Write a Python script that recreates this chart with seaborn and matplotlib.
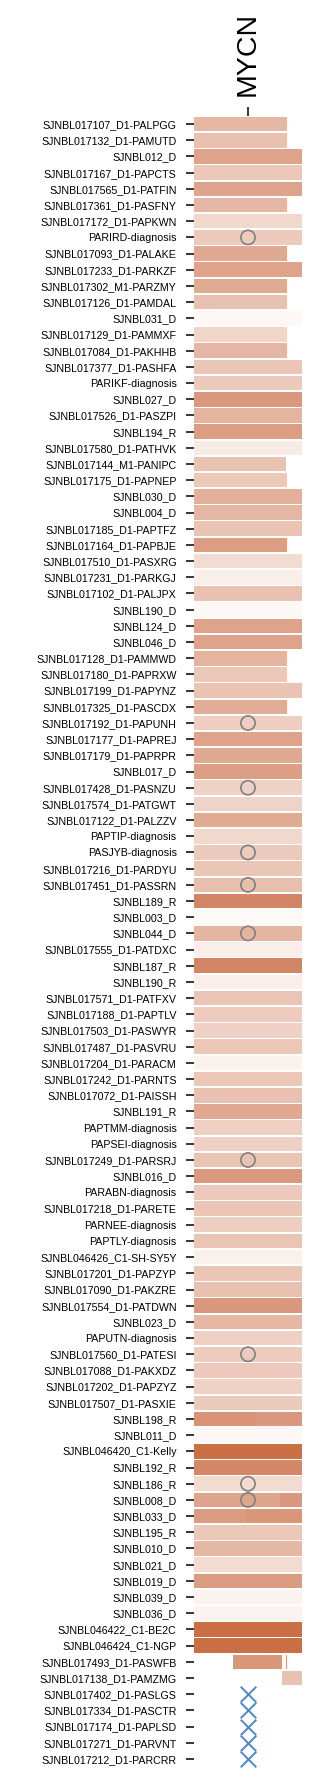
import numpy as np
import matplotlib
matplotlib.use("Agg")
import matplotlib.pyplot as plt
import seaborn as sns

# ---------------- data ----------------
labels = [
    "SJNBL017107_D1-PALPGG", "SJNBL017132_D1-PAMUTD", "SJNBL012_D", "SJNBL017167_D1-PAPCTS",
    "SJNBL017565_D1-PATFIN", "SJNBL017361_D1-PASFNY", "SJNBL017172_D1-PAPKWN", "PARIRD-diagnosis",
    "SJNBL017093_D1-PALAKE", "SJNBL017233_D1-PARKZF", "SJNBL017302_M1-PARZMY", "SJNBL017126_D1-PAMDAL",
    "SJNBL031_D", "SJNBL017129_D1-PAMMXF", "SJNBL017084_D1-PAKHHB", "SJNBL017377_D1-PASHFA",
    "PARIKF-diagnosis", "SJNBL027_D", "SJNBL017526_D1-PASZPI", "SJNBL194_R",
    "SJNBL017580_D1-PATHVK", "SJNBL017144_M1-PANIPC", "SJNBL017175_D1-PAPNEP", "SJNBL030_D",
    "SJNBL004_D", "SJNBL017185_D1-PAPTFZ", "SJNBL017164_D1-PAPBJE", "SJNBL017510_D1-PASXRG",
    "SJNBL017231_D1-PARKGJ", "SJNBL017102_D1-PALJPX", "SJNBL190_D", "SJNBL124_D",
    "SJNBL046_D", "SJNBL017128_D1-PAMMWD", "SJNBL017180_D1-PAPRXW", "SJNBL017199_D1-PAPYNZ",
    "SJNBL017325_D1-PASCDX", "SJNBL017192_D1-PAPUNH", "SJNBL017177_D1-PAPREJ", "SJNBL017179_D1-PAPRPR",
    "SJNBL017_D", "SJNBL017428_D1-PASNZU", "SJNBL017574_D1-PATGWT", "SJNBL017122_D1-PALZZV",
    "PAPTIP-diagnosis", "PASJYB-diagnosis", "SJNBL017216_D1-PARDYU", "SJNBL017451_D1-PASSRN",
    "SJNBL189_R", "SJNBL003_D", "SJNBL044_D", "SJNBL017555_D1-PATDXC",
    "SJNBL187_R", "SJNBL190_R", "SJNBL017571_D1-PATFXV", "SJNBL017188_D1-PAPTLV",
    "SJNBL017503_D1-PASWYR", "SJNBL017487_D1-PASVRU", "SJNBL017204_D1-PARACM", "SJNBL017242_D1-PARNTS",
    "SJNBL017072_D1-PAISSH", "SJNBL191_R", "PAPTMM-diagnosis", "PAPSEI-diagnosis",
    "SJNBL017249_D1-PARSRJ", "SJNBL016_D", "PARABN-diagnosis", "SJNBL017218_D1-PARETE",
    "PARNEE-diagnosis", "PAPTLY-diagnosis", "SJNBL046426_C1-SH-SY5Y", "SJNBL017201_D1-PAPZYP",
    "SJNBL017090_D1-PAKZRE", "SJNBL017554_D1-PATDWN", "SJNBL023_D", "PAPUTN-diagnosis",
    "SJNBL017560_D1-PATESI", "SJNBL017088_D1-PAKXDZ", "SJNBL017202_D1-PAPZYZ", "SJNBL017507_D1-PASXIE",
    "SJNBL198_R", "SJNBL011_D", "SJNBL046420_C1-Kelly", "SJNBL192_R",
    "SJNBL186_R", "SJNBL008_D", "SJNBL033_D", "SJNBL195_R",
    "SJNBL010_D", "SJNBL021_D", "SJNBL019_D", "SJNBL039_D",
    "SJNBL036_D", "SJNBL046422_C1-BE2C", "SJNBL046424_C1-NGP", "SJNBL017493_D1-PASWFB",
    "SJNBL017138_D1-PAMZMG", "SJNBL017402_D1-PASLGS", "SJNBL017334_D1-PASCTR", "SJNBL017174_D1-PAPLSD",
    "SJNBL017271_D1-PARVNT", "SJNBL017212_D1-PARCRR",
]

# main bar colour value (0 = white .. 1 = dark orange), NaN = no bar
bar_value = [
    0.45, 0.39, 0.59, 0.34, 0.59, 0.46, 0.23, 0.32, 0.55, 0.59,
    0.54, 0.39, 0.01, 0.25, 0.46, 0.35, 0.33, 0.66, 0.48, 0.63,
    0.10, 0.38, 0.34, 0.50, 0.46, 0.37, 0.63, 0.21, 0.08, 0.38,
    0.01, 0.59, 0.59, 0.48, 0.34, 0.37, 0.52, 0.30, 0.59, 0.55,
    0.62, 0.27, 0.26, 0.54, 0.23, 0.32, 0.35, 0.40, 0.79, 0.00,
    0.47, 0.08, 0.79, 0.08, 0.36, 0.31, 0.28, 0.34, 0.05, 0.34,
    0.39, 0.55, 0.29, 0.28, 0.37, 0.66, 0.33, 0.35, 0.30, 0.36,
    0.06, 0.35, 0.39, 0.66, 0.45, 0.28, 0.31, 0.33, 0.27, 0.32,
    0.66, 0.01, 0.96, 0.78, 0.20, 0.66, 0.68, 0.34, 0.45, 0.20,
    0.64, 0.04, 0.04, 0.96, 0.96, 0.68, 0.38,
    np.nan, np.nan, np.nan, np.nan, np.nan,
]

# main bar start / end (column units, full width = 7)
bar_start = [0] * 95 + [2.52, 5.68] + [0] * 5
bar_end = [
    6, 6, 7, 7, 7, 6, 7, 7, 6, 7,
    6, 6, 7, 6, 6, 7, 7, 7, 7, 7,
    7, 5.95, 6, 7, 7, 7, 6, 7, 7, 7,
    7, 7, 7, 6, 6, 7, 6, 7, 7, 7,
    7, 7, 7, 7, 7, 7, 7, 7, 7, 7,
    7, 7, 7, 7, 7, 7, 7, 7, 7, 7,
    7, 7, 7, 7, 7, 7, 7, 7, 7, 7,
    7, 7, 7, 7, 7, 7, 7, 7, 7, 7,
    7, 7, 7, 7, 7, 7, 7, 7, 7, 7,
    7, 7, 7, 7, 7, 5.68, 7,
    0, 0, 0, 0, 0,
]

# extra segments drawn over the main bars
seg_label = ["SJNBL198_R", "SJNBL008_D", "SJNBL033_D", "SJNBL017493_D1-PASWFB"]
seg_start = [0, 0, 0, 5.94]
seg_end = [4.0, 5.6, 3.4, 6.06]
seg_value = [0.70, 0.58, 0.64, 0.68]

circle_labels = ["PARIRD-diagnosis", "SJNBL017192_D1-PAPUNH", "SJNBL017428_D1-PASNZU",
                 "PASJYB-diagnosis", "SJNBL017451_D1-PASSRN", "SJNBL044_D",
                 "SJNBL017249_D1-PARSRJ", "SJNBL017560_D1-PATESI", "SJNBL186_R", "SJNBL008_D"]
cross_labels = ["SJNBL017402_D1-PASLGS", "SJNBL017334_D1-PASCTR", "SJNBL017174_D1-PAPLSD",
                "SJNBL017271_D1-PARVNT", "SJNBL017212_D1-PARCRR"]

column = "MYCN"

# ---------------- plot ----------------
sns.set_theme(style="white")
plt.rcParams["font.family"] = ["Liberation Sans", "DejaVu Sans"]

cmap = sns.blend_palette(["#fdf9f7", "#c8683f"], as_cmap=True)

fig = plt.figure(figsize=(3.24, 17.80), dpi=100)
ax = fig.add_axes([194 / 324, 1 - 1767 / 1780, 108 / 324, (1767 - 116) / 1780])

pos = {lab: i for i, lab in enumerate(labels)}
ys = np.arange(len(labels))
vals = np.array(bar_value, dtype=float)
starts = np.array(bar_start, dtype=float)
ends = np.array(bar_end, dtype=float)
mask = ~np.isnan(vals)
ax.barh(ys[mask], (ends - starts)[mask], left=starts[mask], height=0.9,
        color=cmap(vals[mask]), linewidth=0, zorder=1)

seg_y = [pos[l] for l in seg_label]
ax.barh(seg_y, np.array(seg_end) - np.array(seg_start), left=seg_start, height=0.9,
        color=cmap(np.array(seg_value)), linewidth=0, zorder=1)

sns.scatterplot(x=[3.5] * len(circle_labels), y=[pos[l] for l in circle_labels], ax=ax,
                marker="o", s=105, facecolor="none", edgecolor="#808080",
                linewidth=1.2, zorder=3, legend=False)
sns.scatterplot(x=[3.5] * len(cross_labels), y=[pos[l] for l in cross_labels], ax=ax,
                marker="x", s=125, color="#4a88cc", linewidth=1.4, zorder=3, legend=False)

ax.set_xlim(0, 7)
ax.set_ylim(len(labels) - 0.5, -0.5)
ax.set_yticks(ys)
ax.set_yticklabels(labels, fontsize=7.7, color="black")
ax.xaxis.tick_top()
ax.set_xticks([3.5])
ax.set_xticklabels([column], rotation=90, fontsize=20.5, color="black")
ax.tick_params(axis="y", which="major", left=True, length=6, width=1.1, pad=6.5, color="black")
ax.tick_params(axis="x", which="major", top=True, bottom=False, length=6.5, width=1.1,
               pad=8, color="black")
ax.set_xlabel("")
ax.set_ylabel("")
for sp in ax.spines.values():
    sp.set_visible(False)
ax.set_facecolor("white")
ax.grid(False)

fig.savefig("out.png", dpi=100, facecolor="white")
